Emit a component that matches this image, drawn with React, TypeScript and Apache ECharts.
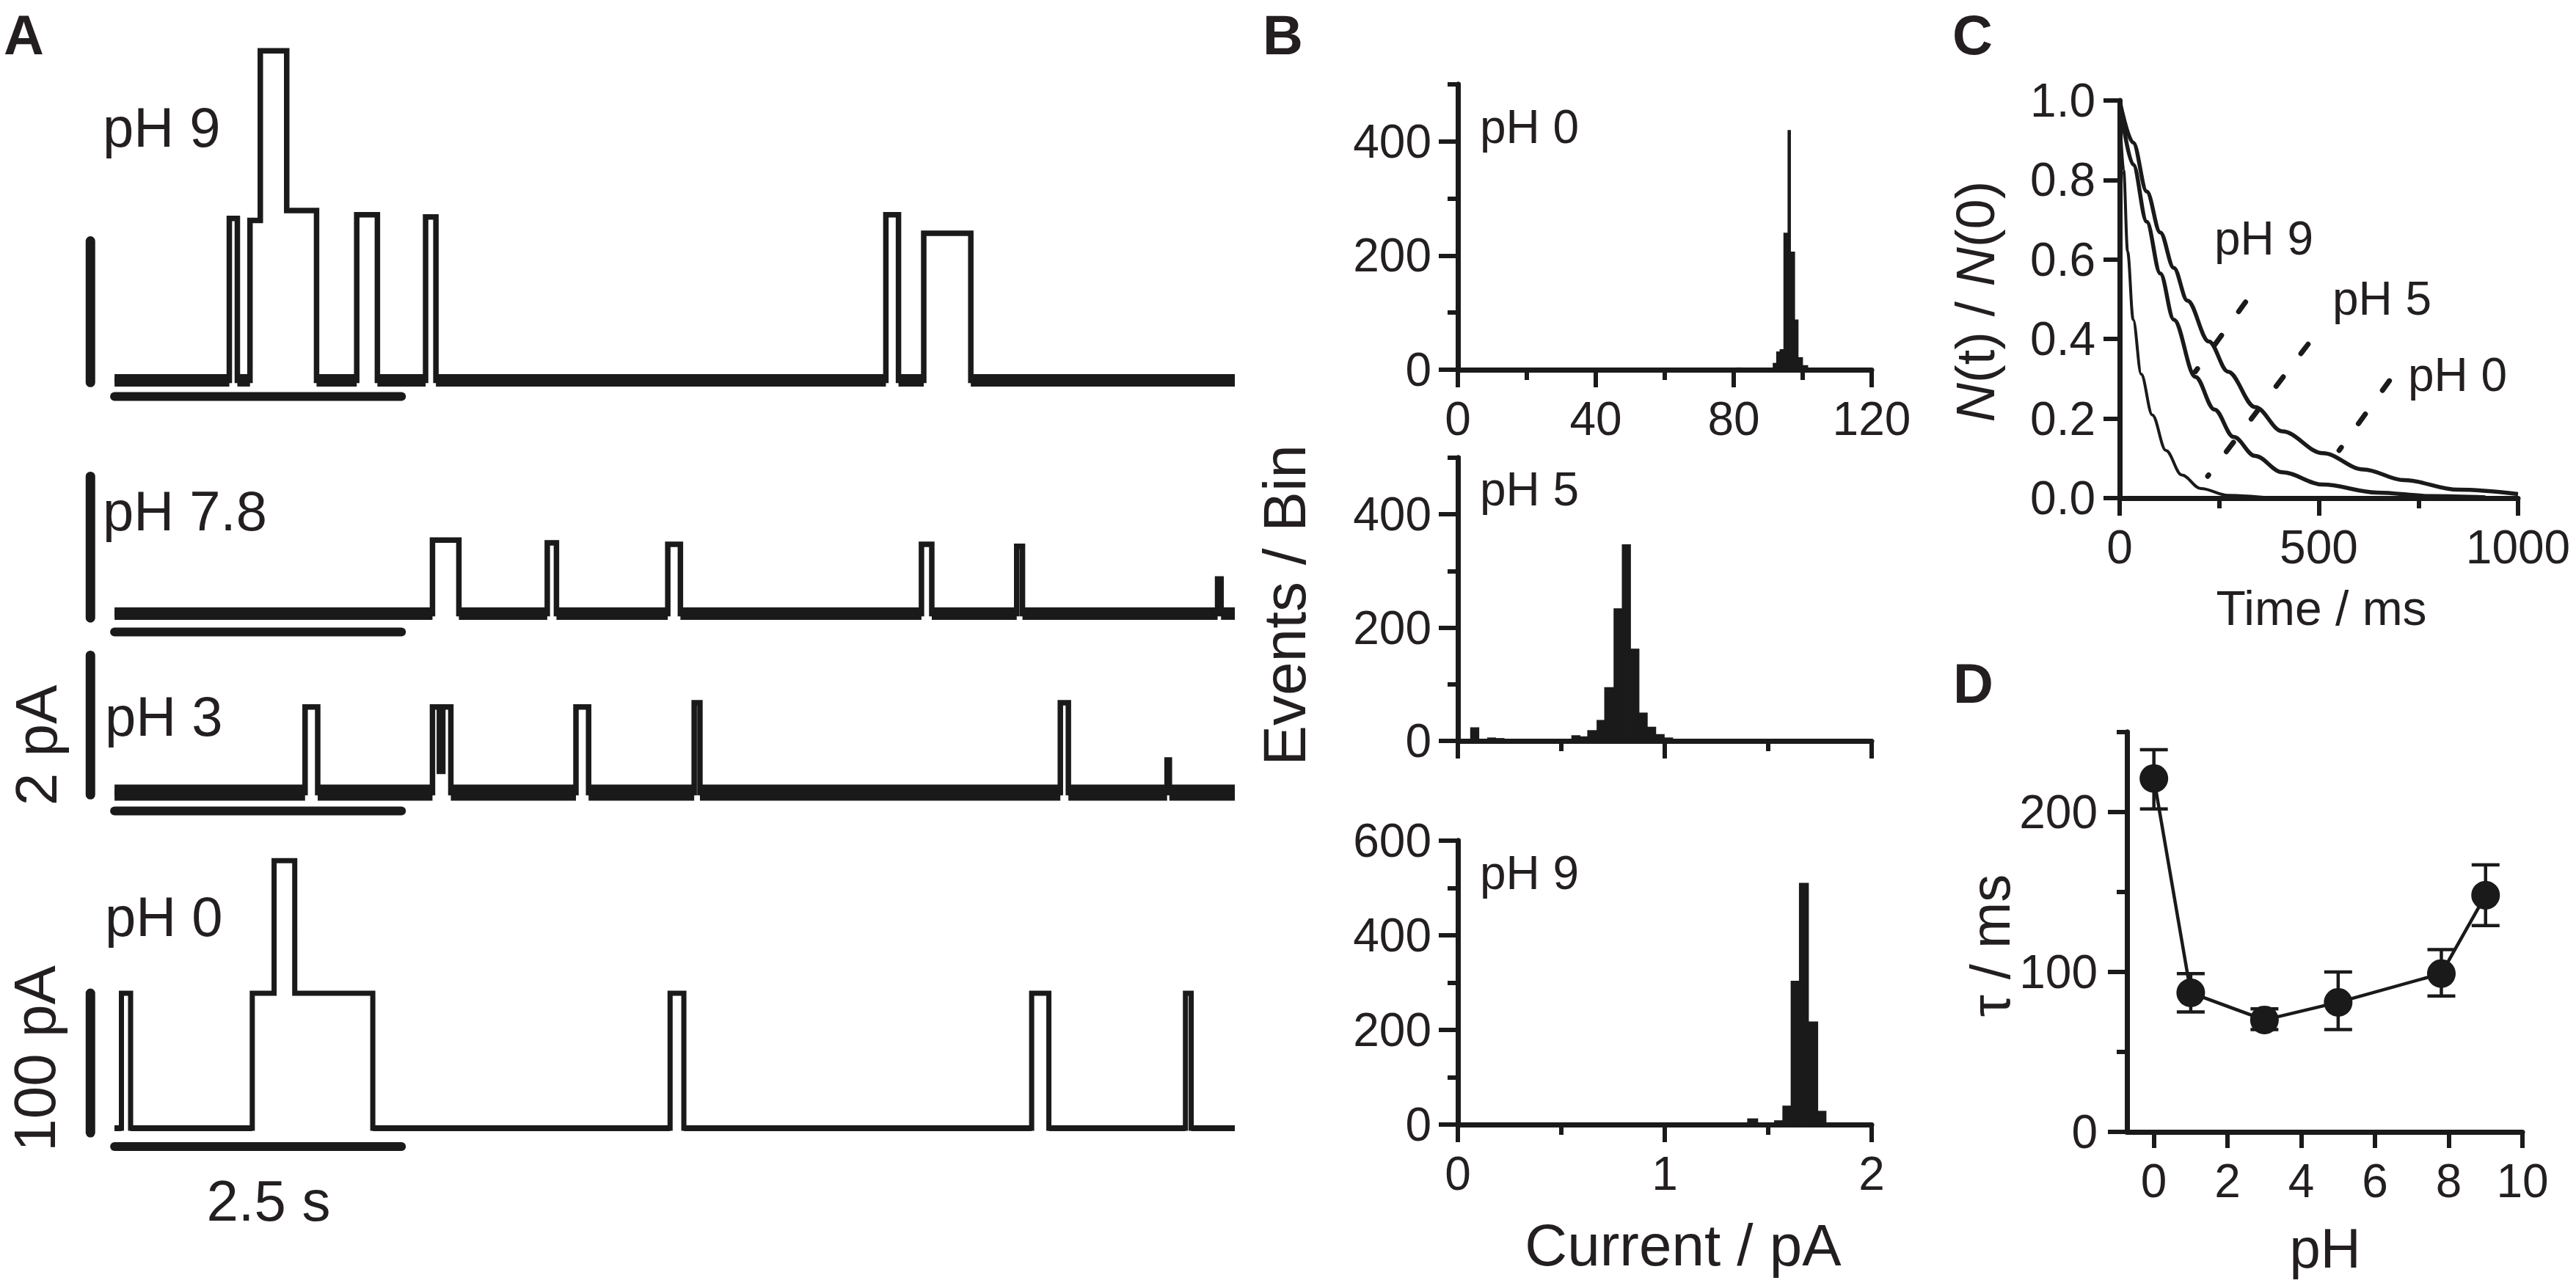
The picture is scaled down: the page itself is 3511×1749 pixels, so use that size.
import React, { useEffect, useRef } from "react";
import * as echarts from "echarts";

const FONT = "'Liberation Sans', Arial, Helvetica, sans-serif";
const INK = "#1a1a1a";
const TXT = "#231f20";

// ---------- Panel A: current traces, step breakpoints [time (s), current]
const tracePH9 = [[0, 0], [1.0, 2.29], [1.07, 0], [1.18, 2.26], [1.27, 4.66], [1.5, 2.4], [1.76, 0], [2.11, 2.34], [2.29, 0], [2.71, 2.31], [2.8, 0], [6.72, 2.34], [6.83, 0], [7.05, 2.08], [7.46, 0], [9.76, 0]];
const tracePH78 = [[0, 0], [2.77, 1.04], [3.0, 0], [3.77, 1.0], [3.85, 0], [4.82, 0.98], [4.93, 0], [7.03, 0.98], [7.12, 0], [7.86, 0.95], [7.91, 0], [9.61, 0.49], [9.64, 0], [9.76, 0]];
const tracePH3 = [[0, 0], [1.66, 1.21], [1.77, 0], [2.77, 1.21], [2.83, 0.3], [2.86, 1.21], [2.93, 0], [4.02, 1.21], [4.13, 0], [5.05, 1.27], [5.1, 0], [8.24, 1.27], [8.31, 0], [9.17, 0.46], [9.19, 0], [9.76, 0]];
const tracePH0 = [[0, 0], [0.06, 96.8], [0.14, 0], [1.2, 96.8], [1.39, 192], [1.57, 96.8], [2.25, 0], [4.84, 96.8], [4.96, 0], [7.99, 96.8], [8.14, 0], [9.33, 96.8], [9.38, 0], [9.76, 0]];
const traceLabels = ["pH 9", "pH 7.8", "pH 3", "pH 0"];

// scale bars: 2.5 s time bar, 2 pA / 100 pA amplitude bars
const timeBarS = [0, 2.5];
const timeBarLevel = [-0.23, -0.26, -0.26, -13.2];
const ampBarX = -0.21;
const ampBars = [[-0.03, 1.97], [-0.06, 1.94], [-0.03, 1.94], [-3.2, 96.8]];

// ---------- Panel B: histograms [bin start, bin end, events]
const histPH0 = [[80.7, 82.5, 4], [90.2, 91.4, 3], [91.4, 92.4, 12], [92.4, 93.4, 32], [93.4, 94.5, 36], [94.5, 95.7, 240], [95.7, 96.5, 420], [96.5, 97.7, 207], [97.7, 98.7, 88], [98.7, 100.0, 22], [100.0, 101.5, 8], [102.7, 104.5, 3]];
const histPH5 = [[0.061, 0.102, 24], [0.143, 0.183, 6], [0.183, 0.224, 5], [0.55, 0.591, 10], [0.591, 0.627, 8], [0.627, 0.672, 19], [0.672, 0.709, 37], [0.709, 0.754, 95], [0.754, 0.794, 234], [0.794, 0.835, 347], [0.835, 0.876, 163], [0.876, 0.916, 50], [0.916, 0.957, 25], [0.957, 0.998, 12], [0.998, 1.039, 6]];
const histPH9 = [[0.82, 0.86, 2], [1.14, 1.18, 2], [1.36, 1.4, 4], [1.4, 1.45, 13], [1.45, 1.49, 3], [1.53, 1.57, 9], [1.57, 1.61, 40], [1.61, 1.65, 304], [1.65, 1.695, 511], [1.695, 1.74, 218], [1.74, 1.78, 29], [1.78, 1.85, 4]];

// ---------- Panel C: survival curves N(t)/N(0)
const curvePH0T = [0, 34, 68, 102, 136, 170, 224, 272, 340, 408, 510, 612, 714, 850, 1000];
const curvePH0V = [1.0, 0.894, 0.771, 0.668, 0.579, 0.497, 0.394, 0.318, 0.229, 0.168, 0.113, 0.072, 0.045, 0.021, 0.01];
const curvePH9T = [0, 34, 68, 102, 136, 190, 238, 286, 340, 408, 510, 646, 782, 918];
const curvePH9V = [1.0, 0.839, 0.695, 0.565, 0.449, 0.305, 0.223, 0.154, 0.106, 0.065, 0.034, 0.014, 0.005, 0.002];
const curvePH5T = [0, 10, 20, 34, 54, 82, 116, 156, 204, 272, 374];
const curvePH5V = [0.98, 0.825, 0.62, 0.449, 0.312, 0.209, 0.12, 0.058, 0.024, 0.007, 0.001];
const leadPH9 = [[316, 0.493], [190, 0.318]];
const leadPH5 = [[473, 0.387], [221, 0.055]];
const leadPH0 = [[677, 0.295], [551, 0.12]];

// ---------- Panel D: tau vs pH
const dPH = [0, 1, 3, 5, 7.8, 9];
const dTau = [221, 87, 70, 81, 99, 148];
const dLow = [202, 75, 64, 64, 85, 129];
const dHigh = [239, 99, 77, 100, 114, 167];

const zip = (a: number[], b: number[]) => a.map((v, i) => [v, b[i]]);

// closed-state (zero level) stretches of a trace, taken from its breakpoints
const closedSegments = (tr: number[][]) => {
  const out: number[][] = [];
  for (let i = 0; i < tr.length - 1; i++) if (tr[i][1] === 0) out.push([tr[i][0], tr[i + 1][0]]);
  return out;
};

function txt(text: string, x: number, y: number, size: number, o: any = {}) {
  return {
    type: "text",
    x,
    y,
    rotation: o.rot ?? 0,
    silent: true,
    z: 10,
    style: {
      text,
      fill: TXT,
      fontSize: size,
      fontFamily: FONT,
      fontWeight: o.bold ? "bold" : "normal",
      align: o.align ?? "left",
      verticalAlign: "middle",
      rich: o.rich,
    },
  };
}

function buildOption() {
  const gridsA = [
    { left: 117, top: 46, width: 1566, height: 511 },
    { left: 117, top: 634, width: 1566, height: 241 },
    { left: 117, top: 878, width: 1566, height: 241 },
    { left: 117, top: 1158, width: 1566, height: 418 },
  ];
  const yRangesA = [[-0.4, 4.9], [-0.4, 2.1], [-0.4, 2.1], [-20, 200]];
  const grid = [
    ...gridsA,
    { left: 1987, top: 115, width: 564, height: 389 },
    { left: 1987, top: 624, width: 564, height: 386 },
    { left: 1987, top: 1146, width: 564, height: 387 },
    { left: 2889, top: 137, width: 543, height: 542 },
    { left: 2899, top: 998, width: 539, height: 545 },
  ].map((g) => ({ ...g, containLabel: false, outerBoundsMode: "none", show: false }));

  const AW = 7;
  const axLine = { show: true, onZero: false, lineStyle: { color: INK, width: AW } };
  const tick = (len: number, custom?: number[]) => ({
    show: true,
    length: len,
    inside: false,
    lineStyle: { color: INK, width: 6 },
    ...(custom ? { customValues: custom } : {}),
  });
  const minor = { show: true, splitNumber: 2, length: 14, lineStyle: { color: INK, width: 6 } };
  const label = (margin: number, extra: any = {}) => ({
    show: true,
    color: TXT,
    fontSize: 64,
    fontFamily: FONT,
    margin,
    ...extra,
  });
  const noSplit = { show: false };

  const xAxis: any[] = [];
  const yAxis: any[] = [];
  for (let i = 0; i < 4; i++) {
    xAxis.push({ type: "value", gridIndex: i, min: -0.25, max: 9.76, show: false });
    yAxis.push({ type: "value", gridIndex: i, min: yRangesA[i][0], max: yRangesA[i][1], show: false });
  }
  // B x axes
  xAxis.push({ type: "value", gridIndex: 4, position: "bottom", min: 0, max: 120, interval: 40, axisLine: axLine, axisTick: tick(24), minorTick: minor, axisLabel: label(35), splitLine: noSplit });
  xAxis.push({ type: "value", gridIndex: 5, position: "bottom", min: 0, max: 2, interval: 1, axisLine: axLine, axisTick: tick(24), minorTick: minor, axisLabel: { show: false }, splitLine: noSplit });
  xAxis.push({ type: "value", gridIndex: 6, position: "bottom", min: 0, max: 2, interval: 1, axisLine: axLine, axisTick: tick(24), minorTick: minor, axisLabel: label(35), splitLine: noSplit });
  // C x axis
  xAxis.push({ type: "value", gridIndex: 7, position: "bottom", min: 0, max: 1000, interval: 500, axisLine: axLine, axisTick: tick(24), minorTick: minor, axisLabel: label(35, { formatter: (v: number) => String(v) }), splitLine: noSplit });
  // D x axis
  const dTicks = [0, 2, 4, 6, 8, 10];
  xAxis.push({ type: "value", gridIndex: 8, position: "bottom", min: -0.73, max: 10, axisLine: axLine, axisTick: tick(22, dTicks), axisLabel: label(35, { customValues: dTicks }), splitLine: noSplit });

  // B y axes (major)
  yAxis.push({ type: "value", gridIndex: 4, position: "left", min: 0, max: 500, axisLine: axLine, axisTick: tick(26, [0, 200, 400]), axisLabel: label(36, { customValues: [0, 200, 400] }), splitLine: noSplit });
  yAxis.push({ type: "value", gridIndex: 5, position: "left", min: 0, max: 500, axisLine: axLine, axisTick: tick(26, [0, 200, 400]), axisLabel: label(36, { customValues: [0, 200, 400] }), splitLine: noSplit });
  yAxis.push({ type: "value", gridIndex: 6, position: "left", min: 0, max: 600, axisLine: axLine, axisTick: tick(26, [0, 200, 400, 600]), axisLabel: label(36, { customValues: [0, 200, 400, 600] }), splitLine: noSplit });
  // C y axis
  yAxis.push({ type: "value", gridIndex: 7, position: "left", min: 0, max: 1, interval: 0.2, axisLine: axLine, axisTick: tick(22), axisLabel: label(33, { formatter: (v: number) => v.toFixed(1) }), splitLine: noSplit });
  // D y axis
  yAxis.push({ type: "value", gridIndex: 8, position: "left", min: 0, max: 250, axisLine: axLine, axisTick: tick(26, [0, 100, 200]), axisLabel: label(40, { customValues: [0, 100, 200] }), splitLine: noSplit });
  // minor tick y axes (9..12), drawn on the same left edge
  const minorY = (gi: number, max: number, vals: number[]) => ({
    type: "value", gridIndex: gi, position: "left", offset: 0, min: 0, max, axisLine: axLine,
    axisTick: { show: true, length: 14, inside: false, lineStyle: { color: INK, width: 6 }, customValues: vals },
    axisLabel: { show: false }, splitLine: noSplit,
  });
  yAxis.push(minorY(4, 500, [100, 300, 500]));
  yAxis.push(minorY(5, 500, [100, 300, 500]));
  yAxis.push(minorY(6, 600, [100, 300, 500]));
  yAxis.push(minorY(8, 250, [50, 150, 250]));

  const series: any[] = [];
  const traces = [tracePH9, tracePH78, tracePH3, tracePH0];
  const bandWidth = [17, 17, 22, 8];
  traces.forEach((tr, i) => {
    series.push({
      type: "line", xAxisIndex: i, yAxisIndex: i, data: tr, step: "end",
      showSymbol: false, symbol: "none", silent: true,
      lineStyle: { color: INK, width: i === 3 ? 7 : 7.5, join: "miter" },
    });
    // noisy closed-state baseline band
    series.push({
      type: "custom", xAxisIndex: i, yAxisIndex: i, data: closedSegments(tr),
      encode: { x: [0, 1] }, silent: true,
      renderItem: (params: any, api: any) => {
        const a = api.coord([api.value(0), 0]);
        const b = api.coord([api.value(1), 0]);
        return {
          type: "line",
          shape: { x1: a[0], y1: a[1], x2: b[0], y2: b[1] },
          style: { stroke: INK, lineWidth: bandWidth[i] },
        };
      },
    });
    series.push({
      type: "line", xAxisIndex: i, yAxisIndex: i,
      data: [[timeBarS[0], timeBarLevel[i]], [timeBarS[1], timeBarLevel[i]]],
      showSymbol: false, symbol: "none", silent: true,
      lineStyle: { color: INK, width: 12, cap: "round" },
    });
    series.push({
      type: "line", xAxisIndex: i, yAxisIndex: i,
      data: [[ampBarX, ampBars[i][0]], [ampBarX, ampBars[i][1]]],
      showSymbol: false, symbol: "none", silent: true,
      lineStyle: { color: INK, width: 13, cap: "round" },
    });
  });

  const histRender = (params: any, api: any) => {
    const p0 = api.coord([api.value(0), api.value(2)]);
    const p1 = api.coord([api.value(1), 0]);
    return {
      type: "rect",
      shape: { x: p0[0] - 0.4, y: p0[1], width: p1[0] - p0[0] + 0.8, height: p1[1] - p0[1] },
      style: { fill: INK },
    };
  };
  [histPH0, histPH5, histPH9].forEach((h, i) => {
    series.push({
      type: "custom", xAxisIndex: 4 + i, yAxisIndex: 4 + i, data: h,
      renderItem: histRender, encode: { x: [0, 1], y: 2 }, silent: true, z: 1,
    });
  });

  // C curves
  const curves = [
    { d: zip(curvePH0T, curvePH0V), w: 5.5 },
    { d: zip(curvePH9T, curvePH9V), w: 5.5 },
    { d: zip(curvePH5T, curvePH5V), w: 4 },
  ];
  curves.forEach((c) => {
    series.push({
      type: "line", xAxisIndex: 7, yAxisIndex: 7, data: c.d, smooth: 0.35, smoothMonotone: "x",
      showSymbol: false, symbol: "none", silent: true, lineStyle: { color: INK, width: c.w },
    });
  });
  [leadPH9, leadPH5, leadPH0].forEach((l) => {
    series.push({
      type: "line", xAxisIndex: 7, yAxisIndex: 7, data: l, showSymbol: false, symbol: "none", silent: true,
      lineStyle: { color: INK, width: 7, type: [16, 40], cap: "round" },
    });
  });

  // D
  series.push({
    type: "line", xAxisIndex: 8, yAxisIndex: 8, data: zip(dPH, dTau), showSymbol: false, symbol: "none",
    silent: true, lineStyle: { color: INK, width: 4.5 }, z: 2,
  });
  series.push({
    type: "custom", xAxisIndex: 8, yAxisIndex: 8,
    data: dPH.map((p, i) => [p, dLow[i], dHigh[i]]),
    encode: { x: 0, y: [1, 2] }, silent: true, z: 3,
    renderItem: (params: any, api: any) => {
      const x = api.value(0);
      const lo = api.coord([x, api.value(1)]);
      const hi = api.coord([x, api.value(2)]);
      const hw = 19;
      const st = { stroke: INK, lineWidth: 4.5 };
      return {
        type: "group",
        children: [
          { type: "line", shape: { x1: lo[0], y1: lo[1], x2: hi[0], y2: hi[1] }, style: st },
          { type: "line", shape: { x1: lo[0] - hw, y1: lo[1], x2: lo[0] + hw, y2: lo[1] }, style: st },
          { type: "line", shape: { x1: hi[0] - hw, y1: hi[1], x2: hi[0] + hw, y2: hi[1] }, style: st },
        ],
      };
    },
  });
  series.push({
    type: "scatter", xAxisIndex: 8, yAxisIndex: 8, data: zip(dPH, dTau), symbol: "circle",
    symbolSize: 39, itemStyle: { color: INK, opacity: 1 }, silent: true, z: 4,
  });

  const r = Math.PI / 2;
  const graphic = [
    txt("A", 5, 47, 76, { bold: true }),
    txt("B", 1721, 47, 76, { bold: true }),
    txt("C", 2661, 47, 76, { bold: true }),
    txt("D", 2662, 931, 76, { bold: true }),
    // panel A
    txt(traceLabels[0], 140, 173, 76),
    txt(traceLabels[1], 140, 696, 76),
    txt(traceLabels[2], 143, 976, 76),
    txt(traceLabels[3], 143, 1249, 76),
    txt("2 pA", 49, 1016, 80, { rot: r, align: "center" }),
    txt("100 pA", 47, 1443, 80, { rot: r, align: "center" }),
    txt("2.5 s", 366, 1637, 78, { align: "center" }),
    // panel B
    txt("pH 0", 2017, 173, 64),
    txt("pH 5", 2017, 667, 64),
    txt("pH 9", 2017, 1190, 64),
    txt("Events / Bin", 1750, 825, 82, { rot: r, align: "center" }),
    txt("Current / pA", 2294, 1697, 80, { align: "center" }),
    // panel C
    txt("pH 9", 3018, 325, 64),
    txt("pH 5", 3179, 407, 64),
    txt("pH 0", 3282, 511, 64),
    txt("{i|N}(t) / {i|N}(0)", 2692, 411, 74, {
      rot: r, align: "center",
      rich: { i: { fontStyle: "italic", fontSize: 74, fontFamily: FONT, fill: TXT } },
    }),
    txt("Time / ms", 3164, 829, 66, { align: "center" }),
    // panel D
    txt("τ / ms", 2712, 1289, 76, { rot: r, align: "center" }),
    txt("pH", 3169, 1701, 76, { align: "center" }),
  ];

  return {
    animation: false,
    backgroundColor: "#ffffff",
    grid,
    xAxis,
    yAxis,
    series,
    graphic,
  };
}

export default function App() {
  const ref = useRef<HTMLDivElement>(null);
  useEffect(() => {
    document.body.style.margin = "0";
    const chart = echarts.init(ref.current as HTMLDivElement, null, { renderer: "svg", width: 3511, height: 1749 });
    chart.setOption(buildOption() as any);
    return () => chart.dispose();
  }, []);
  return <div ref={ref} style={{ width: 3511, height: 1749, background: "#fff" }} />;
}
